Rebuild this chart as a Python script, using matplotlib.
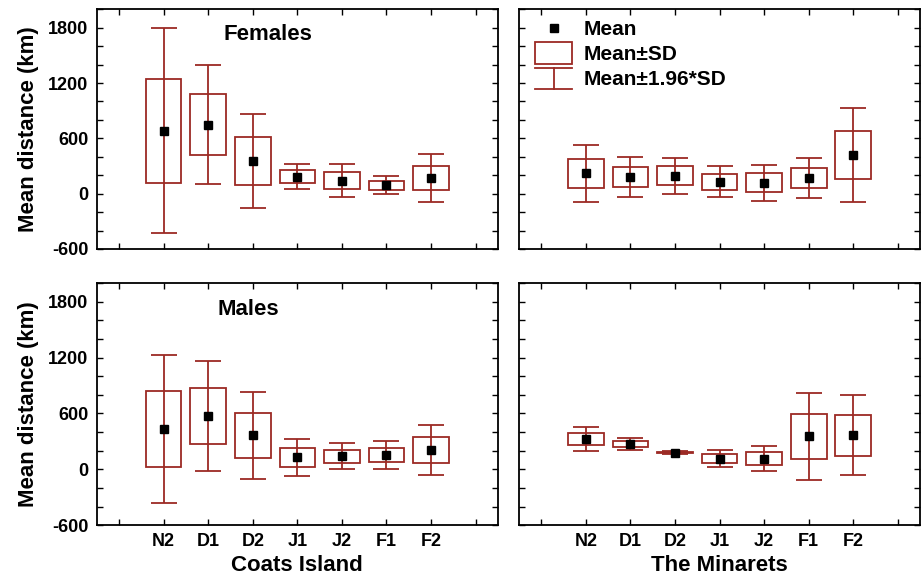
import matplotlib
matplotlib.use('Agg')
import matplotlib.pyplot as plt
from matplotlib.patches import Rectangle
from matplotlib.lines import Line2D
from matplotlib.legend_handler import HandlerBase
from matplotlib.ticker import FixedLocator, FuncFormatter

plt.rcParams['font.family'] = ['Liberation Sans', 'DejaVu Sans']
plt.rcParams['font.weight'] = 'bold'
plt.rcParams['axes.labelweight'] = 'bold'

categories = ['N2', 'D1', 'D2', 'J1', 'J2', 'F1', 'F2']

# mean and SD of distance (km)
coats_f_mean = [682, 747, 354, 184, 141, 90, 170]
coats_f_sd = [567, 330, 260, 70, 90, 50, 132]
minarets_f_mean = [220, 180, 195, 130, 119, 170, 419]
minarets_f_sd = [157, 110, 100, 87, 100, 110, 262]
coats_m_mean = [432, 572, 364, 130, 140, 155, 205]
coats_m_sd = [405, 300, 240, 102, 72, 78, 138]
minarets_m_mean = [324, 270, 180, 115, 115, 353, 367]
minarets_m_sd = [67, 34, 10, 48, 68, 237, 220]

red = '#9c2a24'
xpos = list(range(1, len(categories) + 1))


class BoxHandler(HandlerBase):
    def create_artists(self, legend, orig_handle, xdescent, ydescent,
                       width, height, fontsize, trans):
        h = 1.45 * height
        y0 = -ydescent + height / 2 - h / 2
        return [Rectangle((-xdescent, y0), width, h, facecolor='none',
                          edgecolor=red, lw=1.3, transform=trans)]


class WhiskerHandler(HandlerBase):
    def create_artists(self, legend, orig_handle, xdescent, ydescent,
                       width, height, fontsize, trans):
        h = 1.45 * height
        yc = -ydescent + height / 2
        x0 = -xdescent
        x1 = x0 + width
        xm = (x0 + x1) / 2
        lines = [Line2D([x0, x1], [yc + h / 2] * 2, color=red, lw=1.3),
                 Line2D([x0, x1], [yc - h / 2] * 2, color=red, lw=1.3),
                 Line2D([xm, xm], [yc - h / 2, yc + h / 2], color=red, lw=1.3)]
        for l in lines:
            l.set_transform(trans)
        return lines


def draw_panel(ax, means, sds, ylabels=True):
    bottoms = [m - s for m, s in zip(means, sds)]
    heights = [2 * s for s in sds]
    whisk = [1.96 * s for s in sds]
    ax.errorbar(xpos, means, yerr=whisk, fmt='none', ecolor=red,
                elinewidth=1.3, capsize=9.5, capthick=1.3, zorder=2)
    ax.bar(xpos, heights, bottom=bottoms, width=0.8, fill=False,
           edgecolor=red, linewidth=1.3, zorder=3)
    ax.plot(xpos, means, 's', color='black', markersize=5.3, zorder=4)
    ax.set_xlim(-0.5, 8.5)
    ax.set_ylim(-600, 2000)
    ax.xaxis.set_major_locator(FixedLocator(range(0, 9)))
    ax.set_xticklabels([''] + categories + [''])
    ax.yaxis.set_major_locator(FixedLocator(range(-600, 2001, 200)))
    ax.yaxis.set_major_formatter(FuncFormatter(
        lambda v, p: f'{int(v)}' if int(v) % 600 == 0 and v < 2000 else ''))
    ax.tick_params(direction='in', length=4.5, width=1, top=True, right=True,
                   labelsize=13, pad=6)
    if not ylabels:
        ax.tick_params(labelleft=False)
    for s in ax.spines.values():
        s.set_linewidth(1.3)


fig = plt.figure(figsize=(9.22, 5.79), dpi=100)
ax_fc = fig.add_axes([0.105, 0.570, 0.435, 0.414])
ax_fm = fig.add_axes([0.563, 0.570, 0.435, 0.414])
ax_mc = fig.add_axes([0.105, 0.093, 0.435, 0.418])
ax_mm = fig.add_axes([0.563, 0.093, 0.435, 0.418])

draw_panel(ax_fc, coats_f_mean, coats_f_sd)
draw_panel(ax_fm, minarets_f_mean, minarets_f_sd, ylabels=False)
draw_panel(ax_mc, coats_m_mean, coats_m_sd)
draw_panel(ax_mm, minarets_m_mean, minarets_m_sd, ylabels=False)

for ax in (ax_fc, ax_fm):
    ax.tick_params(labelbottom=False)

ax_fc.text(3.33, 1725, 'Females', fontsize=16, ha='center', va='center')
ax_mc.text(2.89, 1713, 'Males', fontsize=16, ha='center', va='center')

for ax in (ax_fc, ax_mc):
    ax.set_ylabel('Mean distance (km)', fontsize=16, labelpad=7)

ax_mc.set_xlabel('Coats Island', fontsize=16, labelpad=3)
ax_mm.set_xlabel('The Minarets', fontsize=16, labelpad=3)

mean_h = Line2D([], [], marker='s', color='black', linestyle='none', markersize=5.3)
box_h = Rectangle((0, 0), 1, 1)
whisk_h = Line2D([], [])
ax_fm.legend([mean_h, box_h, whisk_h], ['Mean', 'Mean±SD', 'Mean±1.96*SD'],
             handler_map={box_h: BoxHandler(), whisk_h: WhiskerHandler()},
             loc='upper left', bbox_to_anchor=(0.02, 0.99), frameon=False,
             fontsize=15, handlelength=1.75, handletextpad=0.55,
             labelspacing=0.3, borderaxespad=0)

fig.savefig('out.png', dpi=100)
